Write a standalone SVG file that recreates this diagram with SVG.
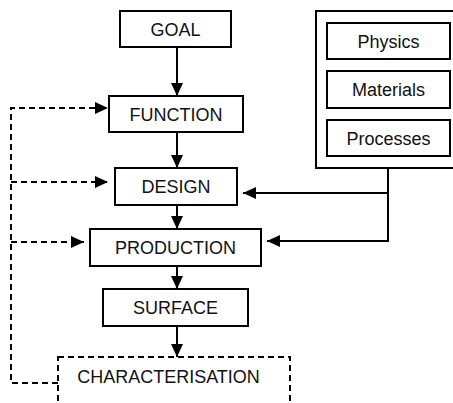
<svg xmlns="http://www.w3.org/2000/svg" width="453" height="403" viewBox="0 0 453 403">
<style>
.box{fill:#fff;stroke:#000;stroke-width:2}
.dbox{fill:none;stroke:#000;stroke-width:2;stroke-dasharray:6 4}
.t{font-family:"Liberation Sans",Arial,sans-serif;font-size:18px;fill:#111;text-anchor:middle}
.c{fill:none;stroke:#000;stroke-width:2}
.d{fill:none;stroke:#000;stroke-width:2;stroke-dasharray:6 4}
</style>
<defs>
<marker id="ah" markerUnits="userSpaceOnUse" markerWidth="13" markerHeight="12" refX="13" refY="6" orient="auto">
<path d="M0,0 L13,6 L0,12 z" fill="#000"/>
</marker>
</defs>
<rect width="453" height="403" fill="#fff"/>
<g id="connectors">
<line class="c" x1="177" y1="47" x2="177" y2="96" marker-end="url(#ah)"/>
<line class="c" x1="177" y1="132" x2="177" y2="168" marker-end="url(#ah)"/>
<line class="c" x1="177" y1="205" x2="177" y2="229" marker-end="url(#ah)"/>
<line class="c" x1="177" y1="266" x2="177" y2="289" marker-end="url(#ah)"/>
<line class="c" x1="177" y1="326" x2="177" y2="357" marker-end="url(#ah)"/>
<path class="c" d="M388,168 V241 H267" marker-end="url(#ah)"/>
<path class="c" d="M388,193 H243" marker-end="url(#ah)"/>
<path class="d" d="M58,383 H11 V108 H108" marker-end="url(#ah)"/>
<path class="d" d="M11,182 H108" marker-end="url(#ah)"/>
<path class="d" d="M11,242 H84" marker-end="url(#ah)"/>
</g>
<g id="goal"><rect class="box" x="120" y="11" width="111" height="36"/><text class="t" x="175.5" y="35.5">GOAL</text></g>
<g id="function"><rect class="box" x="109" y="96" width="134" height="36"/><text class="t" x="176" y="120.5">FUNCTION</text></g>
<g id="design"><rect class="box" x="115" y="168" width="122" height="37"/><text class="t" x="176" y="193">DESIGN</text></g>
<g id="production"><rect class="box" x="90" y="229" width="171" height="37"/><text class="t" x="175.5" y="254">PRODUCTION</text></g>
<g id="surface"><rect class="box" x="103" y="289" width="145" height="37"/><text class="t" x="175.5" y="314">SURFACE</text></g>
<g id="characterisation"><rect class="dbox" x="58" y="357" width="232" height="60"/><text class="t" x="168.5" y="383">CHARACTERISATION</text></g>
<g id="knowledge">
<rect class="box" x="316" y="11" width="150" height="157"/>
<g id="physics"><rect class="box" x="327" y="23" width="123" height="36"/><text class="t" x="388.5" y="47.5">Physics</text></g>
<g id="materials"><rect class="box" x="327" y="71" width="123" height="37"/><text class="t" x="388.5" y="96">Materials</text></g>
<g id="processes"><rect class="box" x="327" y="120" width="123" height="36"/><text class="t" x="388.5" y="144.5">Processes</text></g>
</g>
</svg>
